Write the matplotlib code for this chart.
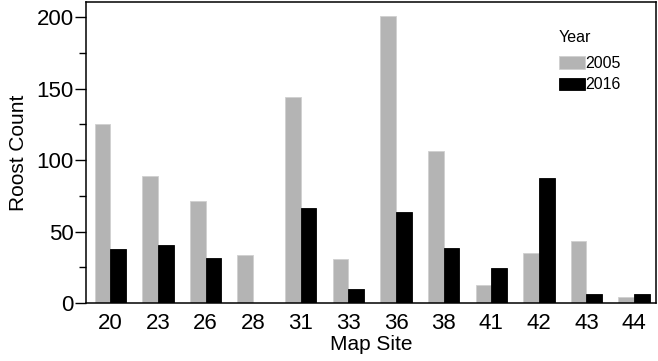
import matplotlib.pyplot as plt
import numpy as np

plt.rcParams['font.family'] = ['Liberation Sans', 'DejaVu Sans']

# map sites and roost counts
sites = ['20', '23', '26', '28', '31', '33', '36', '38', '41', '42', '43', '44']
count_2005 = [125.5, 88.5, 71.5, 33.3, 144.3, 30.5, 200.7, 106.5, 12.5, 35.2, 43.6, 4.4]
count_2016 = [37.5, 40.3, 31.7, 0, 66.7, 9.5, 63.6, 38.5, 24.5, 87.4, 6.5, 6.5]

fig = plt.figure(figsize=(6.58, 3.61), dpi=100)
ax = fig.add_axes([86/658, 1 - 303/361, 570/658, 301/361])

x = np.arange(len(sites))
w = 0.33
ax.bar(x - w/2, count_2005, w, color='#b4b4b4', edgecolor='#d0d0d0', linewidth=0.6, label='2005')
ax.bar(x + w/2, count_2016, w, color='black', edgecolor='black', linewidth=0.6, label='2016')

ax.set_xlim(-0.51, 11.46)
ax.set_ylim(0, 210.5)
ax.set_xticks(x)
ax.set_xticklabels(sites)
ax.tick_params(axis='x', length=0, labelsize=16, pad=7)
ax.set_yticks([0, 50, 100, 150, 200])
ax.set_yticks([25, 75, 125, 175], minor=True)
ax.tick_params(axis='y', which='major', length=8, width=1, labelsize=16, pad=1)
ax.tick_params(axis='y', which='minor', length=5, width=1)
for s in ax.spines.values():
    s.set_linewidth(1.1)

ax.set_xlabel('Map Site', fontsize=15, labelpad=1)
ax.set_ylabel('Roost Count', fontsize=15, labelpad=6)

# legend title drawn on its own, entries below it
ax.text(0.83, 0.883, 'Year', transform=ax.transAxes, fontsize=11.5, va='center', ha='left')
leg = ax.legend(loc='upper left', bbox_to_anchor=(0.808, 0.863), frameon=False,
                fontsize=11.5, handlelength=1.6, handleheight=0.8,
                handletextpad=0.0, labelspacing=0.4, borderpad=0.3)

fig.savefig('out.png', dpi=100)
